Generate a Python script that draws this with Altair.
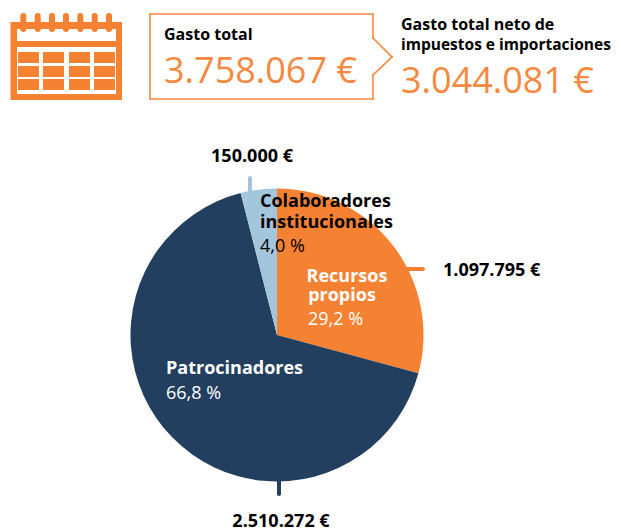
import altair as alt
import pandas as pd

# Chart values
categories = ["Recursos propios", "Patrocinadores", "Colaboradores institucionales"]
amounts = [1097795, 2510272, 150000]
slice_order = [1, 2, 3]
slice_colors = ["#F58233", "#233F60", "#A3C6DC"]

ORANGE = "#F58233"
NAVY = "#233F60"
LIGHT = "#A3C6DC"
FONT = "Open Sans"
M = 8  # page margin


def px(v):
    return alt.value(v - M)


def rect(x, y, x2, y2, color):
    return alt.Chart(alt.Data(values=[{}])).mark_rect(color=color, strokeWidth=0).encode(
        x=px(x), x2=px(x2), y=px(y), y2=px(y2)
    )


def line(x, y, x2, y2, color, width, cap="butt"):
    return alt.Chart(alt.Data(values=[{}])).mark_rule(
        color=color, strokeWidth=width, strokeCap=cap
    ).encode(x=px(x), x2=px(x2), y=px(y), y2=px(y2))


def label(s, x, y, size, color="#000000", bold=False, align="left"):
    return alt.Chart(alt.Data(values=[{}])).mark_text(
        text=s, font=FONT, fontSize=size, color=color,
        fontWeight="bold" if bold else "normal", align=align, baseline="alphabetic",
    ).encode(x=px(x), y=px(y))


pie_df = pd.DataFrame({"cat": categories, "amount": amounts, "ord": slice_order})
pie = alt.Chart(pie_df).mark_arc(outerRadius=146.5, stroke=None).encode(
    theta=alt.Theta("amount:Q", stack=True),
    order=alt.Order("ord:Q"),
    color=alt.Color("cat:N", scale=alt.Scale(domain=categories, range=slice_colors), legend=None),
    x=px(277),
    y=px(335),
)

layers = []

# Calendar icon
layers.append(rect(10.5, 22, 122, 100, ORANGE))
layers.append(rect(17, 29, 116, 41, "#FFFFFF"))
layers.append(rect(17, 47, 116, 94, "#FFFFFF"))
for cx0, cx1 in [(18, 39), (43, 64), (69, 90), (94, 115)]:
    for cy0, cy1 in [(52, 63), (66, 77), (79, 90)]:
        layers.append(rect(cx0, cy0, cx1, cy1, ORANGE))
for rx in [23.3, 37.7, 52, 66, 80.3, 94.7, 109]:
    layers.append(line(rx, 16, rx, 29, ORANGE, 6, "round"))

# Callout box
BOX = "#F6883F"
for seg in [
    (150, 14, 373, 14), (150, 99, 373, 99), (150, 14, 150, 99),
    (373, 14, 373, 38), (373, 75, 373, 99),
    (373, 38, 392, 57), (392, 57, 373, 75),
]:
    layers.append(line(*seg, BOX, 1.6, "square"))

# Pie and leader lines
layers.append(line(405, 269, 423, 269, ORANGE, 4, "round"))
layers.append(line(250, 178, 250, 195, LIGHT, 4, "round"))
layers.append(line(279, 478, 279, 494, NAVY, 4, "round"))
layers.append(pie)

# Texts
layers += [
    label("Gasto total", 164, 40, 16, bold=True),
    label("3.758.067 €", 164, 83, 36, color=BOX),
    label("Gasto total neto de", 401, 30, 16, bold=True),
    label("impuestos e importaciones", 401, 50, 15.5, bold=True),
    label("3.044.081 €", 401, 93, 36, color=BOX),
    label("150.000 €", 252, 162, 18, bold=True, align="center"),
    label("1.097.795 €", 443, 276, 18, bold=True),
    label("2.510.272 €", 281, 527, 18, bold=True, align="center"),
    label("Colaboradores", 260, 207, 18, bold=True),
    label("institucionales", 260, 228, 18, bold=True),
    label("4,0 %", 260, 252, 18),
    label("Recursos", 347, 282, 18, color="#FFFFFF", bold=True, align="center"),
    label("propios", 342, 301, 18, color="#FFFFFF", bold=True, align="center"),
    label("29,2 %", 308, 325, 18, color="#FFFFFF"),
    label("Patrocinadores", 166, 374, 18, color="#FFFFFF", bold=True),
    label("66,8 %", 166, 399, 18, color="#FFFFFF"),
]

chart = alt.layer(*layers).properties(
    width=605, height=520, padding=0, autosize=alt.AutoSizeParams(type="none"), background="#FFFFFF"
).configure_view(stroke=None)

chart.save("out.html", embed_options={"renderer": "svg", "actions": False})
